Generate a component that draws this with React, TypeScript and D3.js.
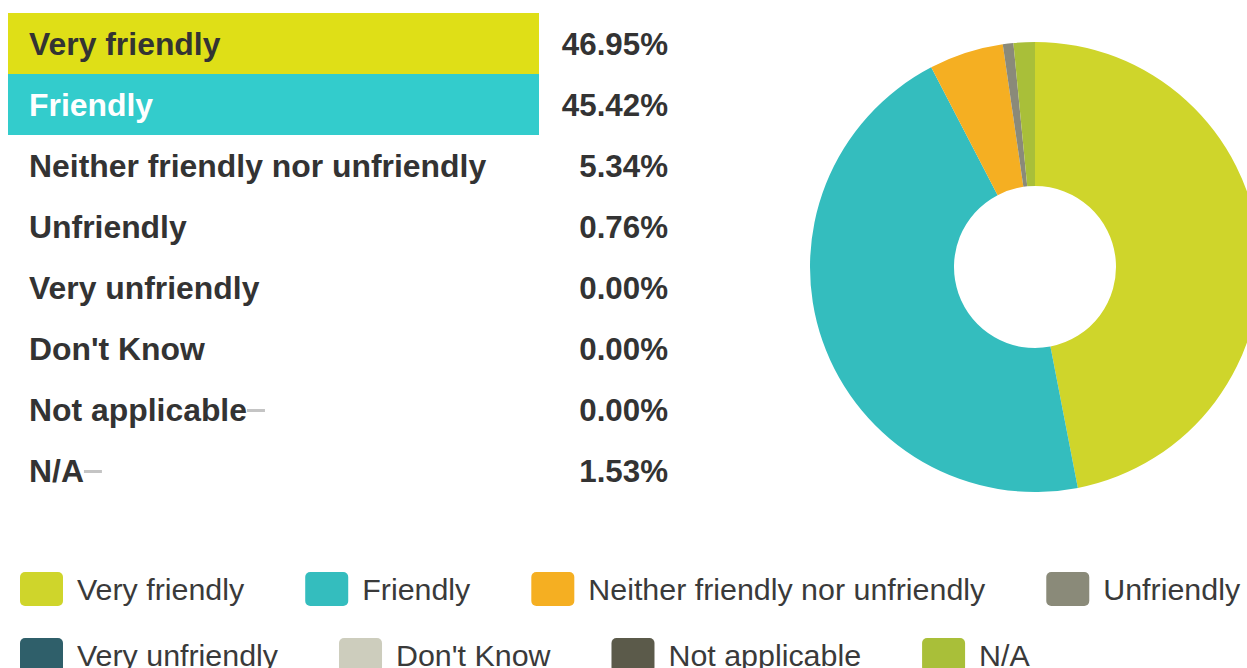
import React from "react";
import * as d3 from "d3";

const categories = [
  "Very friendly",
  "Friendly",
  "Neither friendly nor unfriendly",
  "Unfriendly",
  "Very unfriendly",
  "Don't Know",
  "Not applicable",
  "N/A",
];
const percentages = [46.95, 45.42, 5.34, 0.76, 0.0, 0.0, 0.0, 1.53];
const pieColors = ["#cfd52b", "#34bdbe", "#f5af22", "#8a8a79", "#2f5f6a", "#cdcdbd", "#5b5a4a", "#a9bf39"];
const tableHighlight = ["#dfdf17", "#33cccc"];
const tableHighlightText = ["#333333", "#ffffff"];
const dashRows = ["Not applicable", "N/A"];

const W = 1247;
const H = 668;
const FONT = '"Liberation Sans", Arial, Helvetica, sans-serif';

function measure(text: string, font: string): number {
  const c = document.createElement("canvas");
  const ctx = c.getContext("2d");
  if (!ctx) return text.length * 15;
  ctx.font = font;
  return ctx.measureText(text).width;
}

export default function App() {
  // table
  const rowScale = d3.scaleBand<string>().domain(categories).range([13, 13 + 61 * categories.length]).padding(0);
  const nameFontSize = 31.9;
  const pctFontSize = 31.3;

  // donut
  const cx = 1035;
  const cy = 267;
  const pieGen = d3.pie<number>().sort(null).value((d) => d);
  const arcs = pieGen(percentages);
  const arcGen = d3.arc<d3.PieArcDatum<number>>().innerRadius(81).outerRadius(225);

  // legend
  const legendFontSize = 30.4;
  const legendFont = `${legendFontSize}px ${FONT}`;
  const swW = 43;
  const swH = 34;
  const swGap = 14;
  const itemGap = 61;
  const legendItems: { name: string; color: string; x: number; y: number }[] = [];
  let lx = 20;
  let ly = 572;
  categories.forEach((name, i) => {
    const tw = measure(name, legendFont);
    const w = swW + swGap + tw;
    if (lx + w > W && lx > 20) {
      lx = 20;
      ly += 66;
    }
    legendItems.push({ name, color: pieColors[i], x: lx, y: ly });
    lx += w + itemGap;
  });

  const boldFont = `bold ${nameFontSize}px ${FONT}`;

  return (
    <div style={{ position: "absolute", left: 0, top: 0, width: W, height: H, overflow: "hidden", background: "#fff" }}>
      <svg width={W} height={H} style={{ display: "block" }} fontFamily={FONT}>
        <rect width={W} height={H} fill="#ffffff" />
        {categories.map((name, i) => {
          const y0 = rowScale(name) as number;
          const bh = rowScale.bandwidth();
          const yc = y0 + bh / 2;
          const hasBar = i < tableHighlight.length;
          const textColor = hasBar ? tableHighlightText[i] : "#333333";
          const tw = measure(name, boldFont);
          return (
            <g key={name}>
              {hasBar && <rect x={8} y={y0} width={531} height={bh} fill={tableHighlight[i]} />}
              <text x={29} y={yc} dy="0.36em" fontSize={nameFontSize} fontWeight="bold" fill={textColor}>
                {name}
              </text>
              {dashRows.includes(name) && (
                <line x1={29 + tw} x2={29 + tw + 18} y1={yc + 1} y2={yc + 1} stroke="#c4c4c4" strokeWidth={3} />
              )}
              <text
                x={668}
                y={yc}
                dy="0.36em"
                textAnchor="end"
                fontSize={pctFontSize}
                fontWeight="bold"
                fill="#333333"
              >
                {percentages[i].toFixed(2) + "%"}
              </text>
            </g>
          );
        })}
        <g transform={`translate(${cx},${cy})`}>
          {arcs.map((a, i) => (
            <path key={categories[i]} d={arcGen(a) || ""} fill={pieColors[i]} />
          ))}
        </g>
        {legendItems.map((it) => (
          <g key={it.name}>
            <rect x={it.x} y={it.y} width={swW} height={swH} rx={5} fill={it.color} />
            <text x={it.x + swW + swGap} y={it.y + swH / 2} dy="0.36em" fontSize={legendFontSize} fill="#3a3a3a">
              {it.name}
            </text>
          </g>
        ))}
      </svg>
    </div>
  );
}
